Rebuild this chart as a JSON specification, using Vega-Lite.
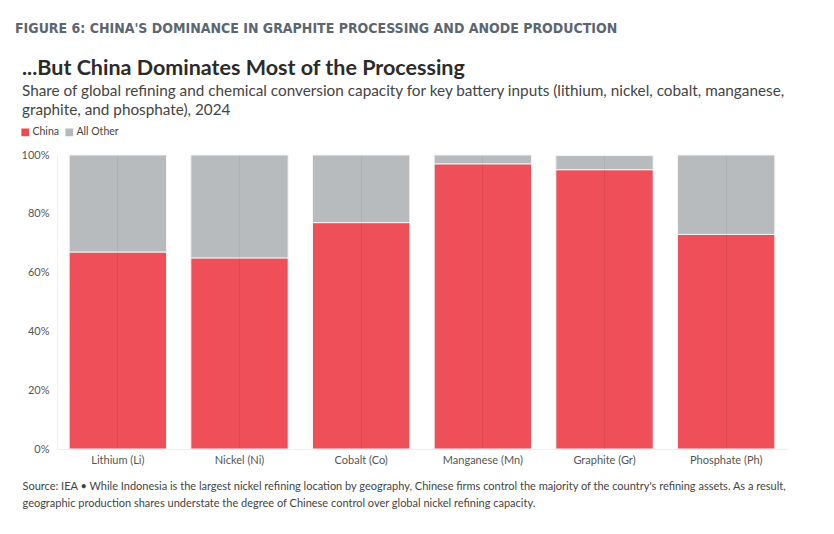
{
  "$schema": "https://vega.github.io/schema/vega-lite/v6.json",
  "background": "white",
  "padding": {"left": 15, "top": 22, "right": 10, "bottom": 10},
  "title": {
    "text": "FIGURE 6: CHINA'S DOMINANCE IN GRAPHITE PROCESSING AND ANODE PRODUCTION",
    "anchor": "start",
    "dx": -5,
    "font": "DejaVu Sans Condensed, Noto Sans, sans-serif",
    "fontSize": 14,
    "fontWeight": "bold",
    "color": "#5b6670",
    "offset": 22
  },
  "config": {
    "view": {"stroke": null},
    "font": "Lato"
  },
  "vconcat": [
    {
      "width": 730,
      "height": 294,
      "title": {
        "text": "...But China Dominates Most of the Processing",
        "subtitle": [
          "Share of global refining and chemical conversion capacity for key battery inputs (lithium, nickel, cobalt, manganese,",
          "graphite, and phosphate), 2024"
        ],
        "anchor": "start",
        "frame": "group",
        "dx": -35,
        "font": "Lato",
        "fontSize": 21.5,
        "fontWeight": "bold",
        "color": "#2b2b2b",
        "subtitleFont": "Lato",
        "subtitleFontSize": 15.3,
        "subtitleColor": "#444444",
        "subtitleLineHeight": 19,
        "subtitlePadding": 4,
        "offset": 31
      },
      "data": {
        "values": [
          {"material": "Lithium (Li)", "group": "China", "seq": 1, "share": 67},
          {"material": "Lithium (Li)", "group": "All Other", "seq": 2, "share": 33},
          {"material": "Nickel (Ni)", "group": "China", "seq": 1, "share": 65},
          {"material": "Nickel (Ni)", "group": "All Other", "seq": 2, "share": 35},
          {"material": "Cobalt (Co)", "group": "China", "seq": 1, "share": 77},
          {"material": "Cobalt (Co)", "group": "All Other", "seq": 2, "share": 23},
          {"material": "Manganese (Mn)", "group": "China", "seq": 1, "share": 97},
          {"material": "Manganese (Mn)", "group": "All Other", "seq": 2, "share": 3},
          {"material": "Graphite (Gr)", "group": "China", "seq": 1, "share": 95},
          {"material": "Graphite (Gr)", "group": "All Other", "seq": 2, "share": 4.8},
          {"material": "Phosphate (Ph)", "group": "China", "seq": 1, "share": 73},
          {"material": "Phosphate (Ph)", "group": "All Other", "seq": 2, "share": 27}
        ]
      },
      "mark": {"type": "bar", "stroke": "#f4f4f4", "strokeWidth": 1, "opacity": 0.97},
      "encoding": {
        "x": {
          "field": "material",
          "type": "nominal",
          "sort": null,
          "scale": {"paddingInner": 0.2, "paddingOuter": 0.1},
          "axis": {
            "labelAngle": 0,
            "labelFont": "Lato",
            "labelFontSize": 11,
            "labelColor": "#555555",
            "labelPadding": 5,
            "ticks": false,
            "domainColor": "#eeeeee",
            "grid": true,
            "gridColor": "#000000",
            "gridOpacity": 0.05,
            "zindex": 1,
            "title": [
              "Source: IEA • While Indonesia is the largest nickel refining location by geography, Chinese firms control the majority of the country's refining assets. As a result,",
              "geographic production shares understate the degree of Chinese control over global nickel refining capacity."
            ],
            "titleFont": "Lato",
            "titleFontSize": 11,
            "titleFontWeight": "normal",
            "titleColor": "#444444",
            "titleLineHeight": 17.5,
            "titleAnchor": "start",
            "titleAlign": "left",
            "titleX": -35,
            "titlePadding": 15
          }
        },
        "y": {
          "field": "share",
          "type": "quantitative",
          "stack": "zero",
          "scale": {"domain": [0, 100]},
          "axis": {
            "values": [0, 20, 40, 60, 80, 100],
            "labelExpr": "datum.value + '%'",
            "labelFont": "Lato",
            "labelFontSize": 11,
            "labelColor": "#555555",
            "labelPadding": 8,
            "ticks": false,
            "grid": false,
            "domainColor": "#f0f0f0",
            "title": null
          }
        },
        "color": {
          "field": "group",
          "type": "nominal",
          "scale": {"domain": ["China", "All Other"], "range": ["#ef4a53", "#b6b9bc"]},
          "legend": {
            "title": null,
            "orient": "none",
            "direction": "horizontal",
            "legendX": -37,
            "legendY": -28,
            "symbolType": "square",
            "symbolSize": 60,
            "symbolStrokeWidth": 0,
            "symbolOpacity": 1,
            "labelFont": "Lato",
            "labelFontSize": 10.5,
            "labelColor": "#444444",
            "labelOffset": 2,
            "columnPadding": 5
          }
        },
        "order": {"field": "seq", "type": "quantitative"}
      }
    }
  ]
}
